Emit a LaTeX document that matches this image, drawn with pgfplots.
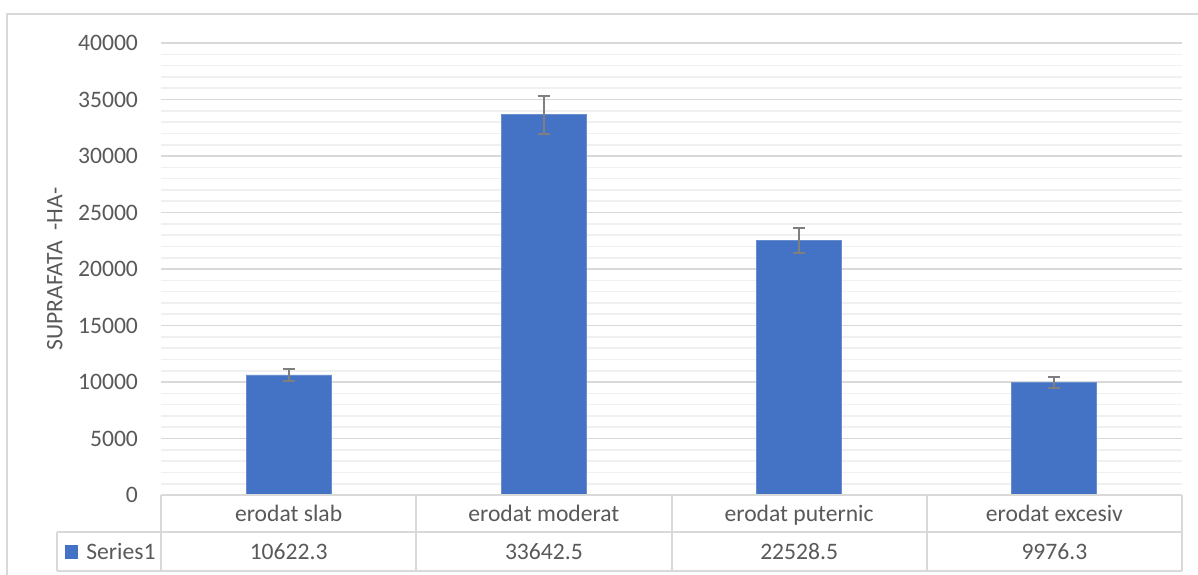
\documentclass[border=0pt]{standalone}
\usepackage{pgfplots}
\pgfplotsset{compat=1.18}
\usepackage{fontspec}
\setmainfont{Carlito}
\definecolor{barblue}{HTML}{4472C4}
\definecolor{txt}{HTML}{595959}
\definecolor{majgrid}{HTML}{D9D9D9}
\definecolor{mingrid}{HTML}{F0F0F0}
\definecolor{errc}{HTML}{7F7F7F}
\newcommand{\cf}{\fontsize{11.8}{14}\selectfont}
\begin{document}
\begin{tikzpicture}
\useasboundingbox (0pt,0pt) rectangle (599pt,287pt);
% outer chart border
\draw[majgrid, line width=1pt] (3.5pt,-1pt) -- (3.5pt,280pt) -- (600pt,280pt);
\begin{axis}[
  at={(80.5pt,39.5pt)}, anchor=south west,
  scale only axis, width=510.5pt, height=226pt,
  ymin=0, ymax=40000,
  xmin=-0.5, xmax=3.5,
  ytick={0,5000,...,40000},
  minor y tick num=4,
  ymajorgrids, yminorgrids,
  major grid style={majgrid, line width=0.8pt},
  minor grid style={mingrid, line width=0.8pt},
  axis line style={draw=none},
  major tick length=0pt, minor tick length=0pt,
  xtick={0,1,2,3},
  xticklabels={erodat slab, erodat moderat, erodat puternic, erodat excesiv},
  xticklabel style={anchor=base, yshift=-13.35pt},
  yticklabel style={anchor=east, xshift=-8pt},
  scaled y ticks=false,
  /pgf/number format/assume math mode=true,
  /pgf/number format/set thousands separator={},
  tick label style={font=\cf, text=txt},
  ylabel={SUPRAFATA \ -HA-},
  ylabel style={at={(axis description cs:-0.104,0.5)}, anchor=center, font=\cf, text=txt},
  clip=false,
]
\addplot[ybar, bar width=42.5pt, fill=barblue, draw=barblue!80!white,
  error bars/.cd, y dir=both, y fixed relative=0.05,
  error bar style={errc, line width=0.9pt},
  error mark options={errc, line width=0.9pt, mark size=3pt, rotate=90}]
  coordinates {(0,10622.3) (1,33642.5) (2,22528.5) (3,9976.3)};
% data table lines
\draw[majgrid, line width=1pt]
  (axis cs:-0.5,0) -- (axis cs:3.5,0)
  (axis cs:-0.9074,-3274) -- (axis cs:3.5,-3274)
  (axis cs:-0.9074,-6726) -- (axis cs:3.5,-6726)
  (axis cs:-0.9074,-3274) -- (axis cs:-0.9074,-6726)
  (axis cs:-0.5,0) -- (axis cs:-0.5,-6726)
  (axis cs:0.5,0) -- (axis cs:0.5,-6726)
  (axis cs:1.5,0) -- (axis cs:1.5,-6726)
  (axis cs:2.5,0) -- (axis cs:2.5,-6726)
  (axis cs:3.5,0) -- (axis cs:3.5,-6726);
\fill[barblue] (axis cs:-0.876,-4460) rectangle (axis cs:-0.825,-5700);
\node[anchor=base west, text=txt, font=\cf] at (axis cs:-0.82,-5664) {Series1};
\node[anchor=base, text=txt, font=\cf] at (axis cs:0,-5664) {10622.3};
\node[anchor=base, text=txt, font=\cf] at (axis cs:1,-5664) {33642.5};
\node[anchor=base, text=txt, font=\cf] at (axis cs:2,-5664) {22528.5};
\node[anchor=base, text=txt, font=\cf] at (axis cs:3,-5664) {9976.3};
\end{axis}
\end{tikzpicture}
\end{document}
